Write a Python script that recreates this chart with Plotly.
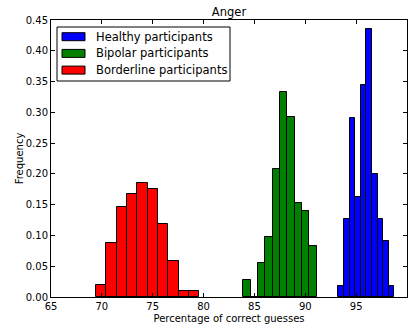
import plotly.graph_objects as go

# Bin edges (percentage of correct guesses) and normalised frequencies
healthy_edges = [93.25, 93.80, 94.35, 94.90, 95.45, 96.01, 96.56, 97.11, 97.66, 98.21, 98.76]
healthy_freq = [0.018, 0.127, 0.290, 0.163, 0.345, 0.436, 0.200, 0.127, 0.091, 0.018]

bipolar_edges = [83.91, 84.63, 85.35, 86.07, 86.79, 87.52, 88.24, 88.96, 89.68, 90.40, 91.12]
bipolar_freq = [0.028, 0.0, 0.056, 0.097, 0.208, 0.333, 0.292, 0.153, 0.139, 0.083]

borderline_edges = [69.42, 70.44, 71.45, 72.47, 73.48, 74.50, 75.52, 76.53, 77.55, 78.56, 79.58]
borderline_freq = [0.020, 0.088, 0.147, 0.167, 0.186, 0.176, 0.118, 0.059, 0.010, 0.010]

series_names = ["Healthy participants", "Bipolar participants", "Borderline participants"]
series_colors = ["#0000ff", "#008000", "#ff0000"]
series_edges = [healthy_edges, bipolar_edges, borderline_edges]
series_freq = [healthy_freq, bipolar_freq, borderline_freq]

x_ticks = [65, 70, 75, 80, 85, 90, 95, 100]
y_ticks = [0.00, 0.05, 0.10, 0.15, 0.20, 0.25, 0.30, 0.35, 0.40, 0.45]

FONT = "DejaVu Sans"
W, H = 416, 331
ML, MR, MT, MB = 51, 9, 20, 34
PW, PH = W - ML - MR, H - MT - MB

fig = go.Figure()
for name, edges, freq, color in zip(series_names, series_edges, series_freq, series_colors):
    centers = [(a + b) / 2 for a, b in zip(edges[:-1], edges[1:])]
    widths = [b - a for a, b in zip(edges[:-1], edges[1:])]
    fig.add_trace(go.Bar(
        x=centers, y=freq, width=widths, name=name, showlegend=False,
        marker=dict(color=color, line=dict(color="black", width=1)),
    ))

# Legend drawn matplotlib-style (wide swatches, tight rows)
def px_x(p):
    return (p - ML) / PW

def px_y(p):
    return 1 - (p - MT) / PH

shapes = [dict(type="rect", xref="paper", yref="paper",
               x0=px_x(57), x1=px_x(230), y0=px_y(81), y1=px_y(27),
               line=dict(color="black", width=1), fillcolor="white", layer="above")]
annotations = []
for i, (name, color) in enumerate(zip(series_names, series_colors)):
    cy = 36.7 + i * 16.7
    shapes.append(dict(type="rect", xref="paper", yref="paper",
                       x0=px_x(62), x1=px_x(85), y0=px_y(cy + 4), y1=px_y(cy - 4),
                       line=dict(color="black", width=1), fillcolor=color, layer="above"))
    annotations.append(dict(text=name, xref="paper", yref="paper",
                            x=px_x(94), y=px_y(cy), xanchor="left", yanchor="middle",
                            showarrow=False,
                            font=dict(family=FONT, size=11.5, color="black")))

axis_common = dict(
    showline=True, linecolor="black", linewidth=1, mirror="ticks",
    ticks="inside", ticklen=4, tickcolor="black", tickwidth=1,
    showgrid=False, zeroline=False,
    tickfont=dict(family=FONT, size=10, color="black"),
)

fig.update_layout(
    width=W, height=H,
    margin=dict(l=ML, r=MR, t=MT, b=MB),
    paper_bgcolor="white", plot_bgcolor="white",
    barmode="overlay", bargap=0,
    showlegend=False,
    title=dict(text="Anger", x=0.5, xref="paper", xanchor="center",
               y=1 - 12 / H, yanchor="middle",
               font=dict(family=FONT, size=11.5, color="black")),
    xaxis=dict(range=[65, 100], tickvals=x_ticks, ticktext=[str(v) for v in x_ticks],
               title=dict(text="Percentage of correct guesses", standoff=3,
                          font=dict(family=FONT, size=10, color="black")),
               **axis_common),
    yaxis=dict(range=[0, 0.45], tickvals=y_ticks, ticktext=[f"{v:.2f}" for v in y_ticks],
               title=dict(text="Frequency", standoff=0,
                          font=dict(family=FONT, size=10, color="black")),
               **axis_common),
    shapes=shapes,
    annotations=annotations,
)

fig.write_html("out.html")
